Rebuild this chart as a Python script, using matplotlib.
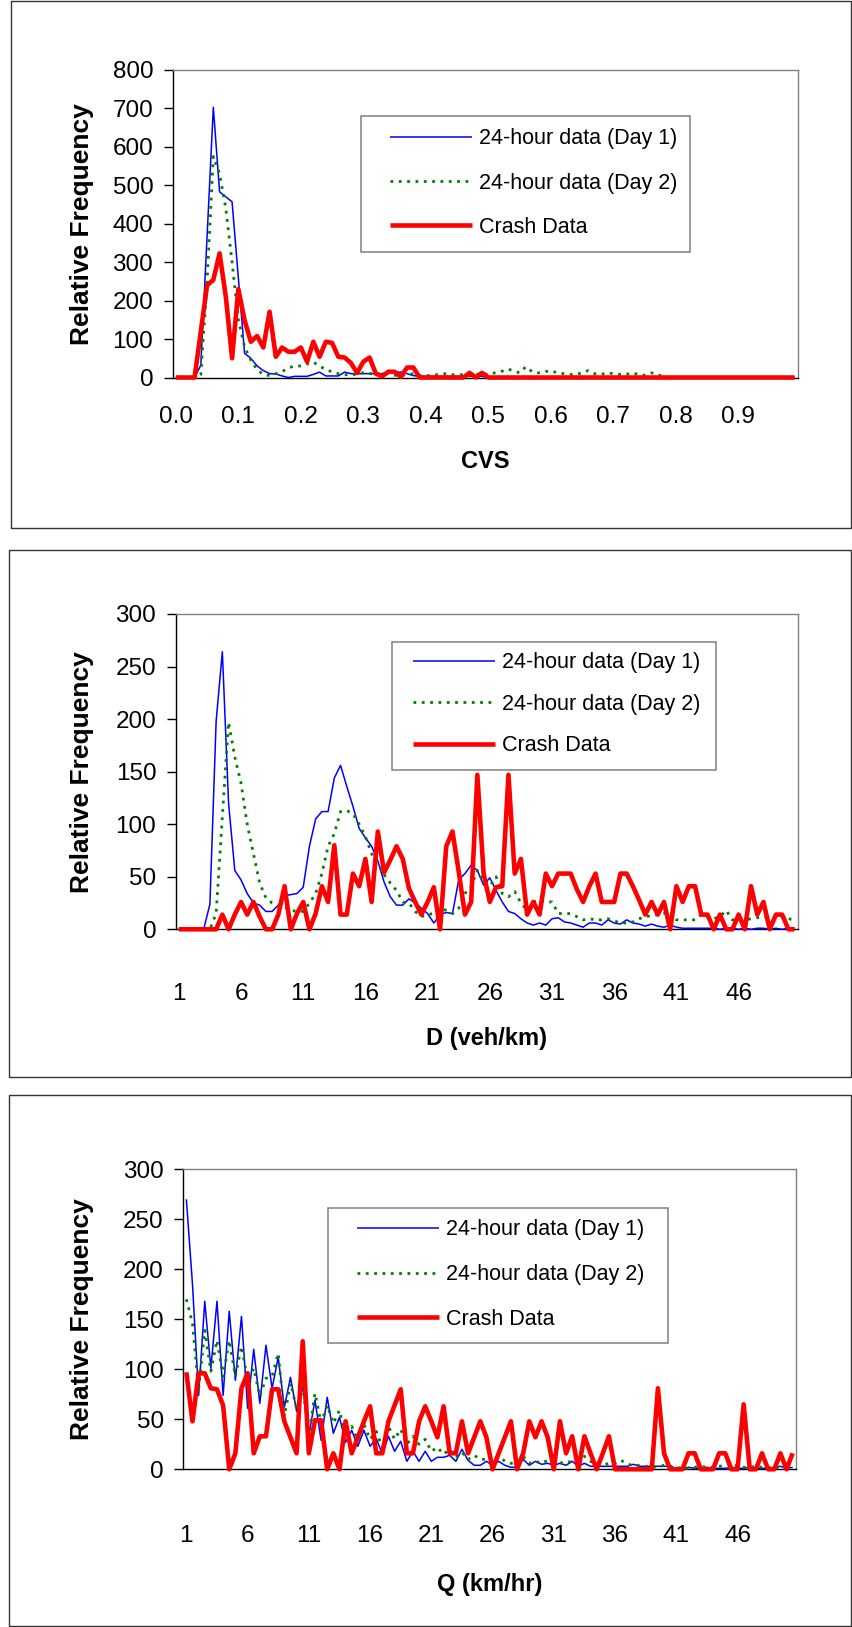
import numpy as np
import matplotlib
matplotlib.use("Agg")
import matplotlib.pyplot as plt
from matplotlib.patches import Rectangle

plt.rcParams['font.family'] = ['Liberation Sans', 'DejaVu Sans']

# ---------------- data ----------------
cvs_ticklabels = ["0.0", "0.1", "0.2", "0.3", "0.4", "0.5", "0.6", "0.7", "0.8", "0.9"]
flow_ticklabels = ["1", "6", "11", "16", "21", "26", "31", "36", "41", "46"]
series_labels = ["24-hour data (Day 1)", "24-hour data (Day 2)", "Crash Data"]

cvs_day1 = [0, 0, 0, 0, 32, 367, 703, 483, 470, 457,
            260, 63, 50, 30, 18, 10, 9, 4, 0, 3,
            3, 3, 8, 14, 4, 4, 4, 14, 10, 10,
            10, 10, 10, 10, 14, 14, 14, 10, 5, 3,
            3, 3, 3, 3, 3, 3, 3, 3, 3, 3,
            0, 0, 0, 0, 0, 0, 0, 0, 0, 0,
            0, 0, 0, 0, 0, 0, 0, 0, 0, 0,
            0, 0, 0, 0, 0, 0, 0, 0, 0, 0,
            0, 0, 0, 0, 0, 0, 0, 0, 0, 0,
            0, 0, 0, 0, 0, 0, 0, 0, 0, 0]
cvs_day2 = [0, 0, 0, 0, 8, 250, 575, 530, 440, 300,
            150, 80, 45, 20, 8, 5, 10, 15, 25, 30,
            30, 35, 40, 30, 20, 15, 10, 8, 5, 10,
            12, 10, 10, 8, 10, 6, 5, 8, 10, 5,
            5, 5, 8, 10, 8, 6, 8, 5, 8, 10,
            8, 12, 15, 22, 18, 12, 28, 15, 12, 15,
            18, 12, 10, 8, 8, 12, 18, 10, 8, 12,
            10, 8, 8, 12, 8, 6, 12, 10, 0, 0,
            0, 0, 0, 0, 0, 0, 0, 0, 0, 0,
            0, 0, 0, 0, 0, 0, 0, 0, 0, 0]
cvs_crash = [0, 0, 0, 0, 120, 240, 254, 323, 210, 50,
             230, 149, 93, 108, 78, 171, 54, 78, 67, 67,
             78, 41, 93, 54, 93, 90, 54, 52, 38, 12,
             41, 52, 10, 3, 15, 15, 2, 26, 26, 0,
             0, 0, 0, 0, 0, 0, 0, 12, 0, 12,
             0, 0, 0, 0, 0, 0, 0, 0, 0, 0,
             0, 0, 0, 0, 0, 0, 0, 0, 0, 0,
             0, 0, 0, 0, 0, 0, 0, 0, 0, 0,
             0, 0, 0, 0, 0, 0, 0, 0, 0, 0,
             0, 0, 0, 0, 0, 0, 0, 0, 0, 0]

d_day1 = [0, 0, 0, 0, 0, 24, 198, 264, 120, 56,
          47, 34, 25, 23, 17, 17, 23, 32, 33, 34,
          40, 79, 105, 112, 112, 144, 156, 136, 117, 96,
          87, 79, 65, 45, 31, 23, 23, 29, 25, 20,
          15, 6, 14, 16, 15, 47, 53, 61, 56, 42,
          49, 37, 26, 17, 15, 10, 6, 4, 6, 4,
          10, 11, 7, 6, 4, 2, 6, 6, 4, 9,
          6, 5, 9, 6, 5, 3, 5, 3, 2, 4,
          2, 1, 1, 1, 1, 1, 1, 0, 1, 1,
          0, 1, 0, 1, 1, 0, 1, 0, 1, 1]
d_day2 = [0, 0, 0, 0, 0, 0, 15, 107, 197, 164,
          139, 100, 72, 44, 30, 25, 22, 21, 18, 17,
          17, 25, 34, 53, 79, 91, 112, 113, 110, 100,
          88, 72, 63, 52, 44, 37, 26, 25, 17, 12,
          14, 15, 20, 18, 15, 20, 34, 41, 56, 45,
          41, 50, 34, 31, 36, 25, 18, 26, 28, 26,
          26, 15, 15, 15, 12, 9, 10, 9, 9, 10,
          8, 6, 6, 7, 10, 12, 13, 14, 15, 17,
          9, 9, 9, 9, 14, 12, 10, 12, 18, 9,
          9, 9, 10, 11, 12, 11, 10, 12, 10, 9]
d_crash = [0, 0, 0, 0, 0, 0, 0, 14, 0, 14,
           26, 14, 26, 12, 0, 0, 14, 41, 0, 15,
           26, 0, 15, 41, 26, 80, 14, 14, 53, 41,
           67, 26, 93, 54, 66, 79, 67, 39, 26, 14,
           26, 40, 0, 79, 93, 55, 14, 26, 147, 53,
           26, 40, 41, 147, 53, 67, 14, 26, 14, 53,
           41, 53, 53, 53, 38, 26, 41, 53, 26, 26,
           26, 53, 53, 41, 28, 14, 26, 14, 26, 0,
           41, 26, 41, 41, 14, 14, 0, 14, 0, 0,
           14, 0, 41, 14, 26, 0, 14, 14, 0, 0]

q_day1 = [270, 185, 74, 168, 101, 168, 74, 158, 89, 153,
          61, 120, 66, 124, 81, 112, 62, 92, 58, 83,
          34, 69, 29, 72, 36, 52, 27, 39, 23, 39,
          23, 31, 15, 33, 18, 28, 8, 18, 8, 18,
          8, 12, 12, 14, 8, 20, 9, 4, 4, 8,
          4, 8, 4, 2, 2, 10, 4, 8, 5, 6,
          4, 6, 4, 8, 3, 6, 3, 3, 3, 3,
          3, 3, 3, 5, 3, 3, 3, 3, 3, 3,
          1, 1, 2, 1, 1, 2, 1, 1, 1, 2,
          1, 1, 2, 1, 1, 1, 2, 3, 1, 2]
q_day2 = [170, 146, 80, 139, 98, 129, 93, 129, 93, 123,
          89, 101, 73, 91, 93, 116, 53, 86, 61, 83,
          33, 76, 46, 64, 46, 59, 33, 43, 29, 45,
          30, 38, 22, 43, 30, 40, 25, 33, 25, 30,
          18, 22, 15, 20, 12, 17, 10, 14, 10, 10,
          8, 14, 8, 6, 6, 13, 6, 8, 6, 9,
          8, 6, 8, 7, 9, 13, 8, 5, 4, 6,
          6, 9, 5, 4, 4, 3, 3, 2, 4, 3,
          2, 1, 1, 2, 3, 2, 2, 3, 4, 6,
          3, 2, 2, 3, 2, 2, 2, 2, 2, 1]
q_crash = [97, 48, 96, 96, 81, 80, 64, 0, 16, 81,
           96, 16, 33, 33, 80, 80, 48, 32, 16, 128,
           16, 49, 49, 0, 16, 0, 48, 16, 32, 48,
           63, 16, 16, 48, 64, 80, 16, 16, 48, 63,
           48, 32, 63, 16, 16, 48, 16, 32, 48, 32,
           0, 16, 32, 48, 0, 16, 48, 32, 48, 32,
           0, 48, 16, 33, 0, 33, 16, 0, 16, 33,
           0, 0, 0, 0, 0, 0, 0, 81, 16, 0,
           0, 0, 16, 16, 0, 0, 0, 16, 16, 0,
           0, 65, 0, 0, 16, 0, 0, 16, 0, 16]

# ---------------- layout (pixels) ----------------
W, H = 852, 1627
fig = plt.figure(figsize=(W / 100, H / 100), dpi=100)
fig.patch.set_facecolor('white')


def frac(l, t, r, b):
    return [l / W, 1 - b / H, (r - l) / W, (b - t) / H]


panels = [
    dict(box=(10.5, 1.0, 851.0, 527.7), ax=(172.7, 70.0, 797.7, 377.5),
         data=(cvs_day1, cvs_day2, cvs_crash), ymax=800, ystep=100,
         xt=cvs_ticklabels, xlabel="CVS", xl_y=461.7, tl_y=415.0,
         leg_box=(360.7, 116.0, 690.0, 251.7), leg_x=390.0, leg_row1=137.7, leg_dy=43.6),
    dict(box=(9.3, 550.0, 851.0, 1077.0), ax=(175.7, 614.0, 797.7, 929.3),
         data=(d_day1, d_day2, d_crash), ymax=300, ystep=50,
         xt=flow_ticklabels, xlabel="D (veh/km)", xl_y=1038.0, tl_y=992.0,
         leg_box=(391.7, 642.0, 715.7, 770.0), leg_x=413.3, leg_row1=661.7, leg_dy=40.8),
    dict(box=(9.3, 1095.0, 851.0, 1626.0), ax=(183.3, 1169.3, 795.7, 1469.3),
         data=(q_day1, q_day2, q_crash), ymax=300, ystep=50,
         xt=flow_ticklabels, xlabel="Q (km/hr)", xl_y=1585.0, tl_y=1534.0,
         leg_box=(327.7, 1208.3, 667.7, 1343.3), leg_x=357.3, leg_row1=1229.0, leg_dy=43.9),
]

TICK_FS = 17.5
LEG_FS = 15.5
PX = 72 / 100  # points per pixel

for p in panels:
    # panel frame
    bl, bt, br, bb = p['box']
    fig.add_artist(Rectangle((bl / W, 1 - bb / H), (br - bl) / W, (bb - bt) / H,
                             transform=fig.transFigure, fill=False,
                             ec='#333333', lw=1.0))
    l, t, r, b = p['ax']
    ax = fig.add_axes(frac(l, t, r, b))
    d1, d2, cr = p['data']
    x = np.arange(len(d1))
    h1, = ax.plot(x, d1, color='#0000FF', lw=1.1, clip_on=False, zorder=3,
                  solid_capstyle='butt')
    h2, = ax.plot(x, d2, color='#008000', lw=2.0, ls=(0, (1, 2)), clip_on=False, zorder=3)
    h3, = ax.plot(x, cr, color='#FF0000', lw=3.3, clip_on=False, zorder=3,
                  solid_capstyle='butt')

    ax.set_xlim(-0.5, len(d1) - 0.5)
    ax.set_ylim(0, p['ymax'])
    ax.set_xticks(np.arange(0, len(d1), 10))
    ax.set_xticklabels(p['xt'])
    ax.set_yticks(np.arange(0, p['ymax'] + 1, p['ystep']))

    for s in ('left', 'bottom'):
        ax.spines[s].set_color('black')
        ax.spines[s].set_linewidth(1.0)
    for s in ('top', 'right'):
        ax.spines[s].set_color('#808080')
        ax.spines[s].set_linewidth(1.0)

    xpad = (p['tl_y'] - 8.6 - b) * PX
    ax.tick_params(axis='x', length=0, pad=xpad, labelsize=TICK_FS)
    ax.tick_params(axis='y', direction='out', length=6.3, width=1.0,
                   pad=7.7, labelsize=TICK_FS)

    ax.set_ylabel("Relative Frequency", fontsize=19, fontweight='bold')
    ax.yaxis.set_label_coords((82.5 - l) / (r - l), 0.5)
    ax.yaxis.label.set_va('center')
    ax.set_xlabel(p['xlabel'], fontsize=17, fontweight='bold')
    ax.xaxis.set_label_coords(0.5, -(p['xl_y'] - b) / (b - t))
    ax.xaxis.label.set_va('center')

    # legend frame
    ll, lt, lr, lb = p['leg_box']
    ax.add_patch(Rectangle((ll / W, 1 - lb / H), (lr - ll) / W, (lb - lt) / H,
                           transform=fig.transFigure, fc='white', ec='#808080',
                           lw=1.1, zorder=4, clip_on=False))
    fs_px = LEG_FS / PX
    row_h = 0.94 * fs_px
    spacing = (p['leg_dy'] - row_h) / fs_px
    top = p['leg_row1'] - 9.5
    leg = ax.legend([h1, h2, h3], series_labels, loc='upper left',
                    bbox_to_anchor=(p['leg_x'] / W, 1 - top / H),
                    bbox_transform=fig.transFigure, frameon=False,
                    borderpad=0, borderaxespad=0, handlelength=81.7 / fs_px,
                    handletextpad=7 / fs_px, labelspacing=spacing,
                    fontsize=LEG_FS)
    leg.set_zorder(5)

fig.savefig("out.png", dpi=100, facecolor='white')
